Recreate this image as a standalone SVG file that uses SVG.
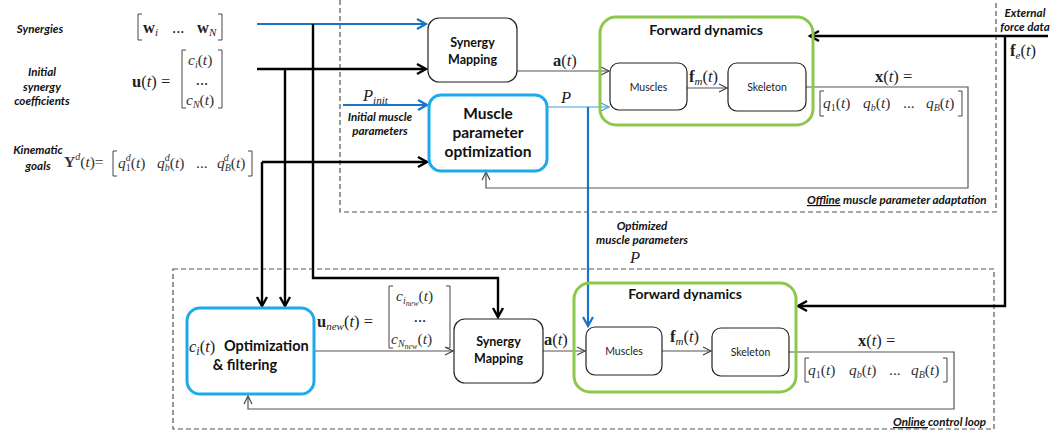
<svg xmlns="http://www.w3.org/2000/svg" width="1058" height="435" viewBox="0 0 1058 435">
<style>
.lbl{font-family:Lato,"Liberation Sans",sans-serif;font-weight:bold;font-style:italic;font-size:11.6px;fill:#111}
.box{fill:#fff;stroke:#222;stroke-width:1.2}
.blue{fill:#fff;stroke:#1eaaea;stroke-width:3}
.green{fill:none;stroke:#8cc84b;stroke-width:3}
.bt{font-family:Lato,"Liberation Sans",sans-serif;font-weight:bold;fill:#111;text-anchor:middle}
.st{font-family:Lato,"Liberation Sans",sans-serif;font-size:10.5px;fill:#222;text-anchor:middle}
.m{font-family:"Liberation Serif","DejaVu Serif",serif;font-size:16.5px;fill:#222}
.v{font-family:"Liberation Serif","DejaVu Serif",serif;font-size:15.5px;fill:#333}
.it{font-style:italic}
.b{font-weight:bold}
.dash{fill:none;stroke:#555;stroke-width:1.2;stroke-dasharray:5,3}
.thin{fill:none;stroke:#555;stroke-width:1.2}
.thick{fill:none;stroke:#000;stroke-width:2.4}
.bl{fill:none;stroke:#1a73c4;stroke-width:2.2}
.br{fill:none;stroke:#444;stroke-width:1}
</style>
<defs>
<marker id="ao" markerUnits="userSpaceOnUse" markerWidth="12" markerHeight="12" refX="9" refY="5" orient="auto" viewBox="0 0 12 10"><path d="M1,1 L9,5 L1,9" fill="none" stroke="#444" stroke-width="1.2"/></marker>
<marker id="ab" markerUnits="userSpaceOnUse" markerWidth="14" markerHeight="14" refX="11" refY="6" orient="auto" viewBox="0 0 14 12"><path d="M2,1 L11,6 L2,11" fill="none" stroke="#000" stroke-width="2.4"/></marker>
<marker id="au" markerUnits="userSpaceOnUse" markerWidth="14" markerHeight="14" refX="11" refY="6" orient="auto" viewBox="0 0 14 12"><path d="M2,1 L11,6 L2,11" fill="none" stroke="#1a73c4" stroke-width="2.2"/></marker>
<marker id="al" markerUnits="userSpaceOnUse" markerWidth="12" markerHeight="12" refX="9" refY="5" orient="auto" viewBox="0 0 12 10"><path d="M1,1 L9,5 L1,9" fill="none" stroke="#3d9ee0" stroke-width="1.2"/></marker>
</defs>

<!-- dashed regions -->
<g id="offline-region">
<path class="dash" d="M340,0 V212 H996 V0"/>
<text class="lbl" x="807" y="204"><tspan text-decoration="underline">Offline</tspan> muscle parameter adaptation</text>
</g>
<g id="online-region">
<rect class="dash" x="173" y="269" width="821" height="160"/>
<text class="lbl" x="893" y="426"><tspan text-decoration="underline">Online </tspan>control loop</text>
</g>

<!-- input labels -->
<g id="inputs">
<text class="lbl" x="40" y="33" text-anchor="middle">Synergies</text>
<text class="lbl" x="42" y="76" text-anchor="middle">Initial</text>
<text class="lbl" x="42" y="91" text-anchor="middle">synergy</text>
<text class="lbl" x="42" y="105" text-anchor="middle">coefficients</text>
<text class="lbl" x="38" y="154" text-anchor="middle">Kinematic</text>
<text class="lbl" x="38" y="170" text-anchor="middle">goals</text>
<!-- W -->
<path class="br" d="M142,14 H138 V40 H142 M218,14 H222 V40 H218"/>
<text class="m" x="143" y="33"><tspan class="b">w</tspan><tspan class="it" font-size="11" dy="3">i</tspan></text>
<text class="m" x="172" y="33" font-size="12">...</text>
<text class="m" x="197" y="33"><tspan class="b">w</tspan><tspan class="it" font-size="11" dy="3">N</tspan></text>
<!-- u(t) -->
<text class="m" x="132" y="87"><tspan class="b">u</tspan>(<tspan class="it">t</tspan>) =</text>
<path class="br" d="M186,50 H182 V108 H186 M218,50 H222 V108 H218"/>
<text class="v" x="188" y="65"><tspan class="it">c</tspan><tspan class="it" font-size="10" dy="3">i</tspan><tspan dy="-3">(</tspan><tspan class="it">t</tspan>)</text>
<text class="m" x="202" y="85" font-size="11" text-anchor="middle">...</text>
<text class="v" x="186" y="105"><tspan class="it">c</tspan><tspan class="it" font-size="10" dy="3">N</tspan><tspan dy="-3">(</tspan><tspan class="it">t</tspan>)</text>
<!-- Y^d -->
<text class="v" x="64" y="167"><tspan class="b">Y</tspan><tspan class="it" font-size="10" dy="-7">d</tspan><tspan dy="7">(</tspan><tspan class="it">t</tspan>)=</text>
<path class="br" d="M117,151 H113 V176 H117 M248,151 H252 V176 H248"/>
<text class="v" x="118" y="168"><tspan class="it">q</tspan><tspan font-size="10" dy="3">1</tspan><tspan class="it" font-size="10" dy="-10" dx="-5">d</tspan><tspan dy="7">(</tspan><tspan class="it">t</tspan>)</text>
<text class="v" x="157" y="168"><tspan class="it">q</tspan><tspan class="it" font-size="10" dy="3">b</tspan><tspan class="it" font-size="10" dy="-10" dx="-5">d</tspan><tspan dy="7">(</tspan><tspan class="it">t</tspan>)</text>
<text class="v" x="196" y="168" font-size="11">...</text>
<text class="v" x="217" y="168"><tspan class="it">q</tspan><tspan class="it" font-size="10" dy="3">B</tspan><tspan class="it" font-size="10" dy="-10" dx="-7">d</tspan><tspan dy="7" dx="2">(</tspan><tspan class="it">t</tspan>)</text>
</g>

<!-- connectors -->
<g id="connectors">
<path class="bl" d="M257,24 H426" marker-end="url(#au)"/>
<path class="thick" d="M257,69 H426" marker-end="url(#ab)"/>
<path class="thick" d="M262,162 H427" marker-end="url(#ab)"/>
<path class="thick" d="M313,24 V278 H498 V317" marker-end="url(#ab)"/>
<path class="thick" d="M285,69 V306" marker-end="url(#ab)"/>
<path class="thick" d="M262,162 V306" marker-end="url(#ab)"/>
<path class="bl" d="M343,105 H427" marker-end="url(#au)"/>
<path class="thin" d="M517,71 H609" marker-end="url(#ao)"/>
<path fill="none" stroke="#3d9ee0" stroke-width="1.2" d="M547,107 H609" marker-end="url(#al)"/>
<path class="bl" d="M588,107 V326" marker-end="url(#au)"/>
<path class="thin" d="M687,88 H727" marker-end="url(#ao)"/>
<path class="thin" d="M806,87 H968 V188 H486 V172" marker-end="url(#ao)"/>
<path class="thick" d="M1048,36 H810" marker-end="url(#ab)"/>
<path class="thick" d="M1005,36 V306 H798" marker-end="url(#ab)"/>
<path class="thin" d="M314,351 H453" marker-end="url(#ao)"/>
<path class="thin" d="M543,351 H585" marker-end="url(#ao)"/>
<path class="thin" d="M662,351 H711" marker-end="url(#ao)"/>
<path class="thin" d="M789,352 H954 V409 H248 V396" marker-end="url(#ao)"/>
</g>

<!-- connector labels -->
<g id="labels">
<text class="m" x="553" y="66"><tspan class="b">a</tspan>(<tspan class="it">t</tspan>)</text>
<text class="m it" x="561" y="103" font-size="18">P</text>
<text class="m" x="689" y="82"><tspan class="b">f</tspan><tspan class="it" font-size="11" dy="3">m</tspan><tspan dy="-3">(</tspan><tspan class="it">t</tspan>)</text>
<text class="m" x="875" y="82"><tspan class="b">x</tspan>(<tspan class="it">t</tspan>) =</text>
<path class="br" d="M824,91 H820 V116 H824 M958,91 H962 V116 H958"/>
<text class="v" x="823" y="108"><tspan class="it">q</tspan><tspan font-size="10" dy="3">1</tspan><tspan dy="-3">(</tspan><tspan class="it">t</tspan>)</text>
<text class="v" x="863" y="108"><tspan class="it">q</tspan><tspan class="it" font-size="10" dy="3">b</tspan><tspan dy="-3">(</tspan><tspan class="it">t</tspan>)</text>
<text class="v" x="903" y="108" font-size="11">...</text>
<text class="v" x="926" y="108"><tspan class="it">q</tspan><tspan class="it" font-size="10" dy="3">B</tspan><tspan dy="-3">(</tspan><tspan class="it">t</tspan>)</text>
<text class="m" x="363" y="101" font-size="17"><tspan class="it">P</tspan><tspan class="it" font-size="11" dy="3">init</tspan></text>
<text class="lbl" x="380" y="121" text-anchor="middle">Initial muscle</text>
<text class="lbl" x="380" y="135" text-anchor="middle">parameters</text>
<text class="lbl" x="1025" y="17" text-anchor="middle">External</text>
<text class="lbl" x="1025" y="31" text-anchor="middle">force data</text>
<text class="m" x="1010" y="56" font-size="17"><tspan class="b">f</tspan><tspan class="it" font-size="11" dy="3">e</tspan><tspan dy="-3">(</tspan><tspan class="it">t</tspan>)</text>
<text class="lbl" x="642" y="230" text-anchor="middle">Optimized</text>
<text class="lbl" x="642" y="244" text-anchor="middle">muscle  parameters</text>
<text class="m it" x="630" y="263" font-size="18">P</text>
<text class="m" x="317" y="327"><tspan class="b">u</tspan><tspan class="it" font-size="11" dy="3">new</tspan><tspan dy="-3">(</tspan><tspan class="it">t</tspan>) =</text>
<path class="br" d="M393,286 H389 V348 H393 M446,286 H450 V348 H446"/>
<text class="v" x="396" y="301"><tspan class="it">c</tspan><tspan class="it" font-size="10" dy="3">i</tspan><tspan class="it" font-size="8" dy="2">new</tspan><tspan dy="-5">(</tspan><tspan class="it">t</tspan>)</text>
<text class="m" x="420" y="322" font-size="11" text-anchor="middle">...</text>
<text class="v" x="391" y="344"><tspan class="it">c</tspan><tspan class="it" font-size="10" dy="3">N</tspan><tspan class="it" font-size="8" dy="2">new</tspan><tspan dy="-5">(</tspan><tspan class="it">t</tspan>)</text>
<text class="m" x="544" y="345"><tspan class="b">a</tspan>(<tspan class="it">t</tspan>)</text>
<text class="m" x="670" y="342"><tspan class="b">f</tspan><tspan class="it" font-size="11" dy="3">m</tspan><tspan dy="-3">(</tspan><tspan class="it">t</tspan>)</text>
<text class="m" x="858" y="346"><tspan class="b">x</tspan>(<tspan class="it">t</tspan>) =</text>
<path class="br" d="M809,358 H805 V382 H809 M943,358 H947 V382 H943"/>
<text class="v" x="808" y="375"><tspan class="it">q</tspan><tspan font-size="10" dy="3">1</tspan><tspan dy="-3">(</tspan><tspan class="it">t</tspan>)</text>
<text class="v" x="849" y="375"><tspan class="it">q</tspan><tspan class="it" font-size="10" dy="3">b</tspan><tspan dy="-3">(</tspan><tspan class="it">t</tspan>)</text>
<text class="v" x="889" y="375" font-size="11">...</text>
<text class="v" x="911" y="375"><tspan class="it">q</tspan><tspan class="it" font-size="10" dy="3">B</tspan><tspan dy="-3">(</tspan><tspan class="it">t</tspan>)</text>
</g>

<!-- top nodes -->
<g id="synergy-mapping-top">
<rect class="box" x="428" y="18" width="89" height="64" rx="11"/>
<text class="bt" x="472.5" y="47" font-size="12.5">Synergy</text>
<text class="bt" x="472.5" y="64" font-size="12.5">Mapping</text>
</g>
<g id="muscle-param-opt">
<rect class="blue" x="429" y="95" width="118" height="76" rx="12"/>
<text class="bt" x="488" y="119" font-size="15.5">Muscle</text>
<text class="bt" x="488" y="138" font-size="15.5">parameter</text>
<text class="bt" x="488" y="157" font-size="15.5">optimization</text>
</g>
<g id="forward-dynamics-top">
<rect class="green" x="600" y="17" width="213" height="108" rx="16"/>
<text class="bt" x="706" y="35" font-size="14">Forward dynamics</text>
</g>
<g id="muscles-top">
<rect class="box" x="610" y="63" width="77" height="47" rx="9"/>
<text class="st" x="648.5" y="91">Muscles</text>
</g>
<g id="skeleton-top">
<rect class="box" x="728" y="63" width="78" height="48" rx="9"/>
<text class="st" x="767" y="91">Skeleton</text>
</g>

<!-- bottom nodes -->
<g id="opt-filtering">
<rect class="blue" x="187" y="308" width="127" height="86" rx="13"/>
<text class="m" x="189" y="352" font-size="19"><tspan class="it">c</tspan><tspan class="it" font-size="12" dy="3">i</tspan><tspan dy="-3">(</tspan><tspan class="it">t</tspan>)</text>
<text class="bt" x="224" y="351" font-size="14.5" style="text-anchor:start">Optimization</text>
<text class="bt" x="245" y="370" font-size="14.5">&amp; filtering</text>
</g>
<g id="synergy-mapping-bottom">
<rect class="box" x="454" y="319" width="89" height="64" rx="11"/>
<text class="bt" x="498.5" y="346" font-size="12.5">Synergy</text>
<text class="bt" x="498.5" y="363" font-size="12.5">Mapping</text>
</g>
<g id="forward-dynamics-bottom">
<rect class="green" x="574" y="283" width="222" height="109" rx="16"/>
<text class="bt" x="685" y="299" font-size="14">Forward dynamics</text>
</g>
<g id="muscles-bottom">
<rect class="box" x="586" y="327" width="76" height="48" rx="9"/>
<text class="st" x="624" y="355">Muscles</text>
</g>
<g id="skeleton-bottom">
<rect class="box" x="712" y="328" width="77" height="48" rx="9"/>
<text class="st" x="750.5" y="356">Skeleton</text>
</g>
</svg>
